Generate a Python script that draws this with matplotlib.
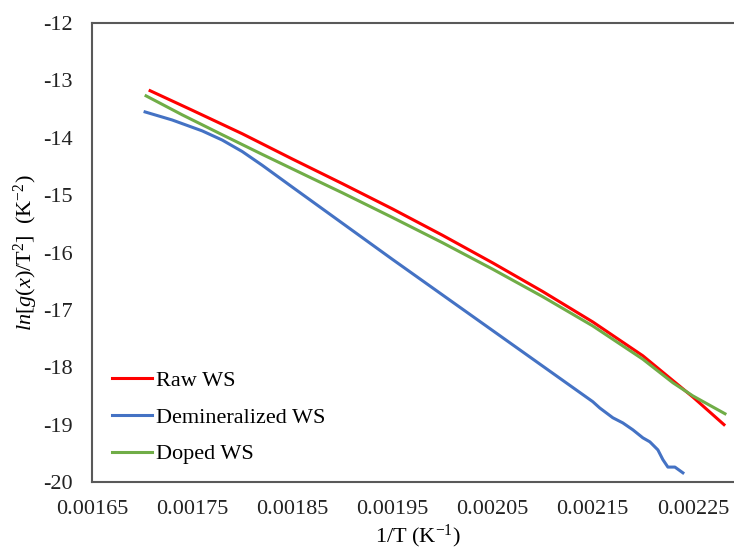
import matplotlib
matplotlib.use("Agg")
import matplotlib.pyplot as plt

plt.rcParams['font.family'] = ['Liberation Serif', 'DejaVu Serif']
plt.rcParams['mathtext.fontset'] = 'custom'
plt.rcParams['mathtext.rm'] = 'Liberation Serif'
plt.rcParams['mathtext.it'] = 'Liberation Serif:italic'
plt.rcParams['axes.unicode_minus'] = False

# Data
raw_x = [0.001708, 0.00175, 0.0018, 0.00185, 0.0019, 0.00195, 0.0020, 0.00205,
         0.0021, 0.00215, 0.0022, 0.00225, 0.002281]
raw_y = [-13.18, -13.52, -13.93, -14.37, -14.80, -15.24, -15.70, -16.18,
         -16.68, -17.21, -17.80, -18.52, -19.0]

demin_x = [0.001703, 0.00173, 0.00176, 0.00178, 0.0018, 0.00182, 0.00185, 0.0019,
           0.00195, 0.0020, 0.00205, 0.0021, 0.00215, 0.002157, 0.00217, 0.00218,
           0.00219, 0.0022, 0.002207, 0.002215, 0.00222, 0.002225, 0.002232, 0.00224]
demin_y = [-13.55, -13.69, -13.88, -14.04, -14.24, -14.48, -14.86, -15.49,
           -16.12, -16.74, -17.36, -17.98, -18.60, -18.71, -18.88, -18.97,
           -19.09, -19.23, -19.30, -19.44, -19.61, -19.74, -19.74, -19.84]

doped_x = [0.001704, 0.00174, 0.001778, 0.00182, 0.00187, 0.0019, 0.00195, 0.0020,
           0.00205, 0.0021, 0.00215, 0.0022, 0.00223, 0.00225, 0.002282]
doped_y = [-13.27, -13.60, -13.93, -14.29, -14.71, -14.96, -15.39, -15.83,
           -16.29, -16.77, -17.28, -17.86, -18.27, -18.50, -18.81]

xticks = [0.00165, 0.00175, 0.00185, 0.00195, 0.00205, 0.00215, 0.00225]
yticks = [-20, -19, -18, -17, -16, -15, -14, -13, -12]

W, H = 734, 551
fig = plt.figure(figsize=(W / 100, H / 100), dpi=100)
left, right, top, bottom = 92, 743, 23, 482
ax = fig.add_axes([left / W, 1 - bottom / H, (right - left) / W, (bottom - top) / H])

ax.plot(raw_x, raw_y, color='#FF0000', lw=2.2, label='Raw WS')
ax.plot(demin_x, demin_y, color='#4472C4', lw=2.2, label='Demineralized WS')
ax.plot(doped_x, doped_y, color='#70AD47', lw=2.2, label='Doped WS')

ax.set_xlim(0.00165, 0.0023)
ax.set_ylim(-20, -12)
ax.set_xticks(xticks)
ax.set_xticklabels([f"{t:.5f}" for t in xticks])
ax.set_yticks(yticks)
ax.tick_params(length=0, labelsize=16, colors='#222222')
ax.tick_params(axis='y', pad=14)
ax.tick_params(axis='x', pad=13)
for s in ax.spines.values():
    s.set_color('#595959')
    s.set_linewidth(1.5)

ax.set_xlabel('1/T (K$^{-1}$)', fontsize=16, labelpad=3)
ax.set_ylabel(r'$\mathit{ln}[\mathit{g}(\mathit{x})/\mathrm{T}^{2}]$  (K$^{-2}$)', fontsize=16, labelpad=2)

leg = ax.legend(loc='lower left', bbox_to_anchor=(0.0, -0.005), frameon=False, fontsize=16,
                handlelength=1.8, handletextpad=0.2, labelspacing=0.72)

fig.savefig('out.png', dpi=100)
